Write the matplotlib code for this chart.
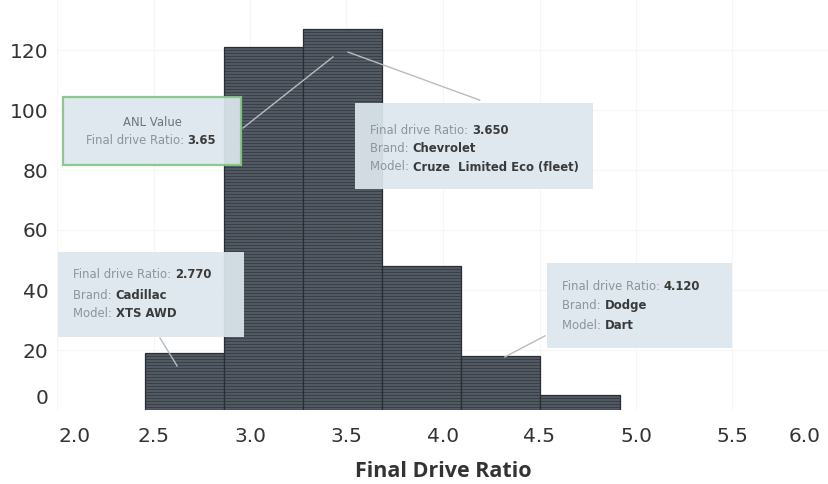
import numpy as np
import matplotlib.pyplot as plt
import matplotlib.transforms as mtransforms
from matplotlib.patches import Rectangle

plt.rcParams['font.family'] = ['DejaVu Sans']

# histogram bins (Final Drive Ratio) and number of cars per bin
bin_left = [2.455, 2.865, 3.275, 3.685, 4.095, 4.505]
bin_width = 0.41
counts = [19, 121, 127, 48, 18, 5]

x_ticks = [2.0, 2.5, 3.0, 3.5, 4.0, 4.5, 5.0, 5.5, 6.0]
y_ticks = [0, 20, 40, 60, 80, 100, 120]

# annotation callouts: (box x0, x1, y0, y1), text rows, leader line
callouts = [
    dict(box=(3.544, 4.777, 73.7, 102.3), x_text=3.622, rows=[93.3, 87.3, 81.0],
         labels=['Final drive Ratio: ', 'Brand: ', 'Model: '],
         values=['3.650', 'Chevrolet', 'Cruze  Limited Eco (fleet)'],
         line=((3.508, 4.19), (119.3, 103.3))),
    dict(box=(2.005, 2.969, 24.3, 52.7), x_text=2.083, rows=[45.0, 38.3, 32.3],
         labels=['Final drive Ratio: ', 'Brand: ', 'Model: '],
         values=['2.770', 'Cadillac', 'XTS AWD'],
         line=((2.534, 2.622), (24.0, 14.7))),
    dict(box=(4.539, 5.497, 20.7, 49.0), x_text=4.617, rows=[41.0, 34.7, 28.3],
         labels=['Final drive Ratio: ', 'Brand: ', 'Model: '],
         values=['4.120', 'Dodge', 'Dart'],
         line=((4.528, 4.321), (24.7, 17.7))),
]
anl_box = (2.031, 2.953, 81.7, 104.3)
anl_value = '3.65'
anl_line = ((2.964, 3.43), (94.0, 117.7))

fig = plt.figure(figsize=(8.29, 4.84), dpi=100)
ax = fig.add_axes([57 / 829, 1 - 410 / 484, 1 - 57 / 829, 410 / 484])
ax.set_xlim(2.0, 6.0)
ax.set_ylim(0, 410 / 3)

# each car is one stacked block
for left, n in zip(bin_left, counts):
    ax.bar(np.full(n, left), 1, width=bin_width, bottom=np.arange(n), align='edge',
           color='#515963', edgecolor='#30353c', linewidth=0.5, zorder=2)
    ax.bar(left, n, width=bin_width, align='edge', color='none',
           edgecolor='#2a2e34', linewidth=0.9, zorder=2)

ax.set_xticks(x_ticks)
ax.set_xticklabels([f'{t:.1f}' for t in x_ticks])
ax.set_yticks(y_ticks)
ax.set_yticklabels([str(t) for t in y_ticks])
ax.tick_params(length=0, labelsize=14.5, labelcolor='#333333')
ax.tick_params(axis='x', pad=12)
ax.tick_params(axis='y', pad=6)
ax.grid(True, color='#f6f6f6', linewidth=0.8, zorder=0)
for s in ax.spines.values():
    s.set_visible(False)

# end labels pulled inside the plot like the original
xl = ax.get_xticklabels()
xl[0].set_transform(xl[0].get_transform() + mtransforms.ScaledTranslation(18 / 100, 0, fig.dpi_scale_trans))
xl[-1].set_transform(xl[-1].get_transform() + mtransforms.ScaledTranslation(-24 / 100, 0, fig.dpi_scale_trans))
yl = ax.get_yticklabels()
yl[0].set_transform(yl[0].get_transform() + mtransforms.ScaledTranslation(0, 13 / 100, fig.dpi_scale_trans))

ax.set_xlabel('Final Drive Ratio', fontsize=15.5, fontweight='bold', color='#333333',
              labelpad=11, family=['Open Sans', 'DejaVu Sans'])

fs = 8.4
label_color = '#8f9499'
value_color = '#3a3a3a'


def draw_box(x0, x1, y0, y1, edge=None):
    r = Rectangle((x0, y0), x1 - x0, y1 - y0, facecolor='#dce7ed', alpha=0.93,
                  edgecolor=edge if edge else 'none', linewidth=1.6 if edge else 0, zorder=4)
    ax.add_patch(r)


for c in callouts:
    (lx, ly) = c['line']
    ax.plot(lx, ly, color='#b8bcc0', linewidth=1.0, zorder=3)
    draw_box(*c['box'])
    for y, lab, val in zip(c['rows'], c['labels'], c['values']):
        t = ax.text(c['x_text'], y, lab, fontsize=fs, color=label_color, va='center', zorder=5)
        ax.annotate(val, xy=(1, 0.5), xycoords=t, va='center', fontsize=fs,
                    fontweight='bold', color=value_color, zorder=5)

ax.plot(anl_line[0], anl_line[1], color='#b8bcc0', linewidth=1.0, zorder=3)
draw_box(*anl_box, edge='#84c584')
xc = (anl_box[0] + anl_box[1]) / 2
ax.text(xc, 96.0, 'ANL Value', fontsize=fs, color='#6f7479', ha='center', va='center', zorder=5)
t = ax.text(xc - 0.08, 90.0, 'Final drive Ratio: ', fontsize=fs, color=label_color,
            ha='center', va='center', zorder=5)
ax.annotate(anl_value, xy=(1, 0.5), xycoords=t, va='center', fontsize=fs,
            fontweight='bold', color=value_color, zorder=5)

fig.savefig('out.png', dpi=100)
